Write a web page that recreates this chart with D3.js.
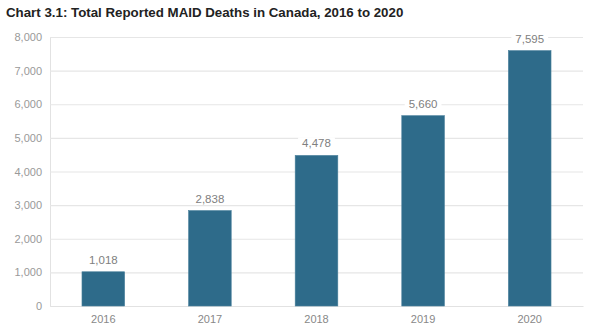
<!DOCTYPE html>
<html><head><meta charset="utf-8">
<script src="https://cdn.jsdelivr.net/npm/d3@7"></script>
<style>body{margin:0;background:#fff;}svg{display:block;}</style>
</head><body>
<script>
const years = ["2016","2017","2018","2019","2020"];
const deaths = [1018, 2838, 4478, 5660, 7595];
const yTicks = [0,1000,2000,3000,4000,5000,6000,7000,8000];
const title = "Chart 3.1: Total Reported MAID Deaths in Canada, 2016 to 2020";

const W = 602, H = 333;
const m = {left:50, right:19, top:37, bottom:27};
const svg = d3.select("body").append("svg").attr("width",W).attr("height",H);
const font = "'Liberation Sans', Arial, Helvetica, sans-serif";

svg.append("text").attr("x",6).attr("y",16.5).text(title)
  .attr("font-family",font).attr("font-size",13.3).attr("font-weight","bold").attr("fill","#222");

const x = d3.scaleBand().domain(years).range([m.left, W-m.right]).paddingInner(0.6).paddingOuter(0.3);
const y = d3.scaleLinear().domain([0,8000]).range([H-m.bottom, m.top]);

const gy = svg.append("g").attr("transform",`translate(${m.left},0)`)
  .call(d3.axisLeft(y).tickValues(yTicks).tickFormat(d3.format(",")).tickSize(-(W-m.left-m.right)).tickPadding(8));
gy.select(".domain").attr("stroke","#e2e2e2");
gy.selectAll(".tick line").attr("stroke","#e6e6e6").attr("stroke-width",1.2);
gy.selectAll(".tick text").attr("font-family",font).attr("font-size",11).attr("fill","#999");

const gx = svg.append("g").attr("transform",`translate(0,${H-m.bottom})`)
  .call(d3.axisBottom(x).tickSize(0).tickPadding(9));
gx.select(".domain").attr("stroke","#e2e2e2").attr("stroke-width",1.2);
gx.selectAll(".tick text").attr("font-family",font).attr("font-size",11).attr("fill","#888");

svg.append("g").selectAll("rect").data(years).join("rect")
  .attr("x",d=>x(d)).attr("width",x.bandwidth())
  .attr("y",(d,i)=>y(deaths[i])).attr("height",(d,i)=>y(0)-y(deaths[i]))
  .attr("fill","#2e6b8a").attr("stroke","#4a809c").attr("stroke-width",0.6);

const lbl = svg.append("g").selectAll("g").data(years).join("g")
  .attr("transform",(d,i)=>`translate(${x(d)+x.bandwidth()/2},${y(deaths[i])-8})`);
lbl.append("text").attr("text-anchor","middle")
  .attr("font-family",font).attr("font-size",11.5).attr("fill","#808080")
  .text((d,i)=>d3.format(",")(deaths[i]));
lbl.each(function(){
  const g = d3.select(this), t = g.select("text").node().getBBox();
  g.insert("rect","text").attr("x",t.x-4).attr("y",t.y).attr("width",t.width+8).attr("height",t.height).attr("fill","#fff");
});
</script>
</body></html>
